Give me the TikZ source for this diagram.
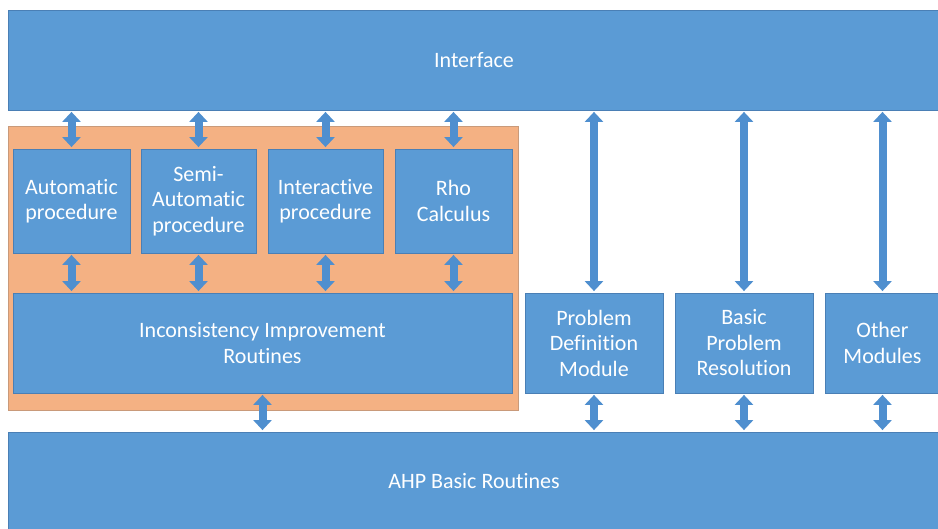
\documentclass[tikz,border=0pt]{standalone}
\usepackage{fontspec}
\setmainfont[Ligatures=NoCommon]{Carlito}
\usetikzlibrary{arrows.meta}
\definecolor{boxblue}{HTML}{5B9BD5}
\definecolor{boxedge}{HTML}{4A7FB5}
\definecolor{arrblue}{HTML}{4F8FCF}
\definecolor{orfill}{HTML}{F4B183}
\definecolor{oredge}{HTML}{C99A7A}
\begin{document}
\begin{tikzpicture}[x=1pt,y=-1pt,
  box/.style={draw=boxedge, line width=0.8pt, fill=boxblue, text=white, inner sep=0pt, align=center,
    font=\fontsize{22}{25.5}\selectfont},
  orbox/.style={draw=oredge, line width=0.8pt, fill=orfill, inner sep=0pt},
  dbl/.style={draw=arrblue, line width=8pt,
    {Triangle[width=18pt,length=10pt]}-{Triangle[width=18pt,length=10pt]},
    shorten <=1.5pt, shorten >=1.5pt}]
\useasboundingbox (0,0) rectangle (938,529);
\clip (0,0) rectangle (938,529);
\fill[white] (0,0) rectangle (938,529);
\node[box, minimum width=932pt, minimum height=100pt] (iface) at (474,60) {Interface};
\node[orbox, minimum width=510pt, minimum height=284pt] (orange) at (263,268) {};
\node[box, minimum width=117pt, minimum height=104pt] (auto) at (71.5,201) {Automatic\\procedure};
\node[box, minimum width=115pt, minimum height=104pt] (semi) at (198.5,201) {Semi-\\Automatic\\procedure};
\node[box, minimum width=115pt, minimum height=104pt] (inter) at (325.5,201) {Interactive\\procedure};
\node[box, minimum width=117pt, minimum height=104pt] (rho) at (453.5,201) {Rho\\Calculus};
\node[box, minimum width=499pt, minimum height=100pt] (incons) at (262.5,343) {Inconsistency Improvement\\Routines};
\node[box, minimum width=138pt, minimum height=100pt] (pdm) at (594,343) {Problem\\Definition\\Module};
\node[box, minimum width=138pt, minimum height=100pt] (bpr) at (744,343) {Basic\\Problem\\Resolution};
\node[box, minimum width=115pt, minimum height=100pt] (other) at (882.5,343) {Other\\Modules};
\node[box, minimum width=932pt, minimum height=99pt] (ahp) at (474,481.5) {AHP Basic Routines};
\foreach \n in {auto,semi,inter,rho}{
  \draw[dbl] (\n.north |- iface.south) -- (\n.north);
  \draw[dbl] (\n.south) -- (\n.south |- incons.north);
}
\foreach \n in {pdm,bpr,other}{
  \draw[dbl] (\n.north |- iface.south) -- (\n.north);
  \draw[dbl] (\n.south) -- (\n.south |- ahp.north);
}
\draw[dbl] (incons.south) -- (incons.south |- ahp.north);
\end{tikzpicture}
\end{document}
